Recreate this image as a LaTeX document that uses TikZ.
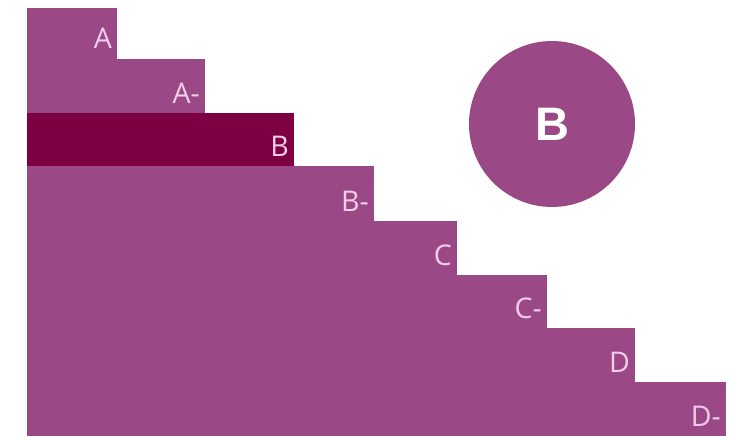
\documentclass[tikz,border=0pt]{standalone}
\usepackage{fontspec}
\setmainfont{Open Sans}
\newfontfamily\boldsans{Liberation Sans}
\definecolor{plum}{RGB}{155,72,134}
\definecolor{plumdark}{RGB}{124,0,66}
\definecolor{plumtext}{RGB}{242,204,232}

\begin{document}
\begin{tikzpicture}[
    x=1pt, y=-1pt,
    band/.style={fill=plum},
    bandhi/.style={fill=plumdark},
    steplabel/.style={anchor=base east, inner sep=0pt, text=plumtext, font=\fontsize{28.5}{28.5}\selectfont},
    badge/.style={circle, fill=plum, minimum size=166pt, inner sep=0pt, text=white, font=\boldsans\bfseries\fontsize{47}{47}\selectfont}
  ]
    \useasboundingbox (0,0) rectangle (731,436);

    % staircase, one band per grade
    \foreach \name/\lbl/\top/\bot/\right/\sty in {
        a/A/8/59/117/band, am/A-/59/113/205/band, b/B/113/166/294/bandhi,
        bm/B-/166/221/374/band, c/C/221/275/457/band, cm/C-/275/328/547/band,
        d/D/328/382/635/band, dm/D-/382/436/726/band}{
      \fill[\sty] (27,\top) rectangle (\right,\bot);
      \node[steplabel] (lbl-\name) at (\right-5,\bot-10) {\lbl};
    }

    \node[badge] (grade) at (552,124) {B};
  \end{tikzpicture}
\end{document}
